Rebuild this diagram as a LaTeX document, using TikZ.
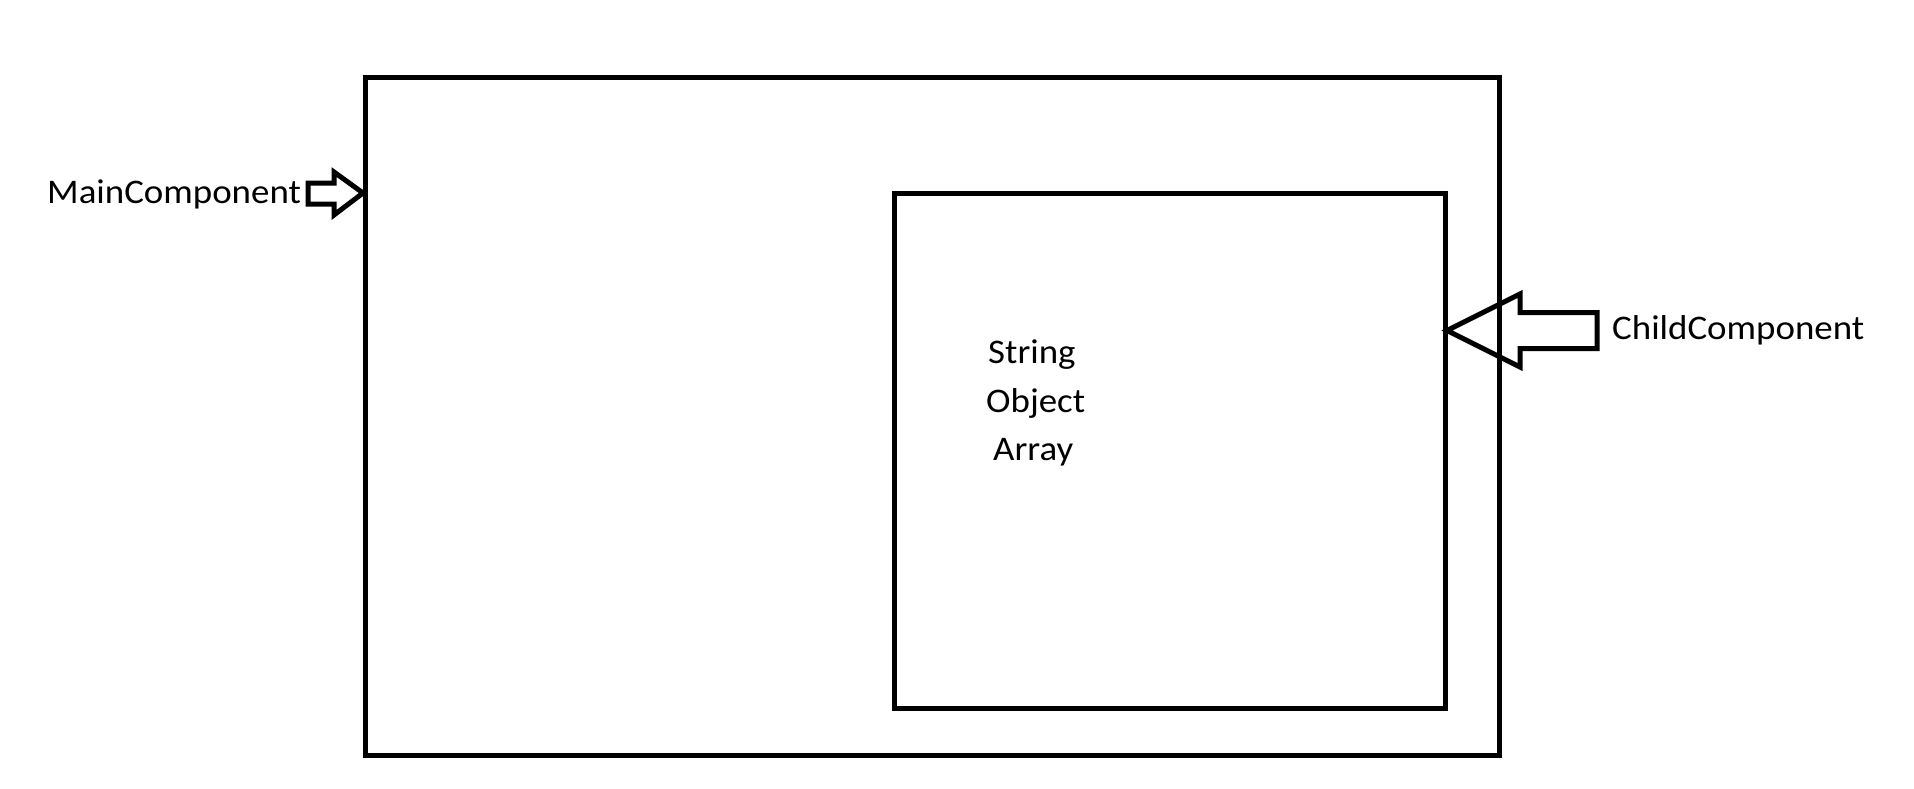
\documentclass[tikz,border=0pt]{standalone}
\usepackage{fontspec}
\setmainfont{Carlito}[FakeStretch=1.07]
\begin{document}
\begin{tikzpicture}[x=1pt,y=-1pt,
  box/.style={draw=black,line width=5pt,inner sep=0pt,fill=none},
  blockarrow/.style={draw=black,line width=5pt,line join=miter,fill=none},
  lbl/.style={inner sep=0pt,anchor=base west,font=\fontsize{34.5}{40}\selectfont}]
\useasboundingbox (0,0) rectangle (1914,789);
\node[box,minimum width=1133.5pt,minimum height=678pt] (outer) at (932.25,416.5) {};
\node[box,minimum width=551pt,minimum height=515.5pt] (inner) at (1170,450.75) {};
% MainComponent arrow
\coordinate (mtip) at (363,193);
\draw[blockarrow] (mtip) -- ++(-29,-21) -- ++(0,11) -- ++(-26,0) -- ++(0,21) -- ++(26,0) -- ++(0,11) -- cycle;
% ChildComponent arrow
\coordinate (ctip) at (1447,330.5);
\draw[blockarrow] (ctip) -- ++(73,-36.5) -- ++(0,18.5) -- ++(77,0) -- ++(0,36) -- ++(-77,0) -- ++(0,18.5) -- cycle;
\node[lbl] (mainlbl) at (47,203) {MainComponent};
\node[lbl] (childlbl) at (1612,339) {ChildComponent};
\node[lbl] (s1) at (988,363) {String};
\node[lbl] (s2) at (986,412) {Object};
\node[lbl] (s3) at (993,460) {Array};
\end{tikzpicture}
\end{document}
